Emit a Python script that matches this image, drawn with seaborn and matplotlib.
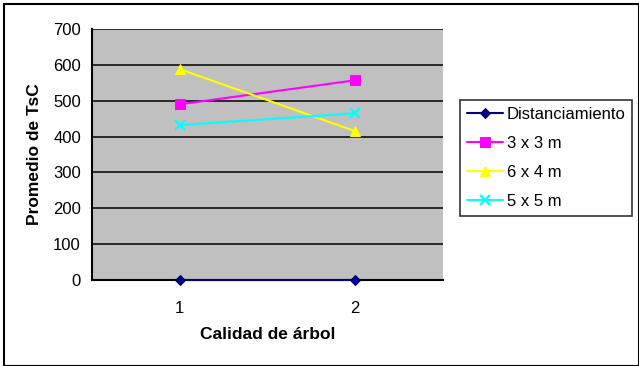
import matplotlib
matplotlib.use("Agg")
import matplotlib.pyplot as plt
import seaborn as sns
import pandas as pd
from matplotlib.patches import Rectangle

# Mean TsC by tree quality for each planting distance
calidad = [1, 2]
series = ["Distanciamiento", "3 x 3 m", "6 x 4 m", "5 x 5 m"]
distanciamiento = [0, 0]
d_3x3 = [490, 557]
d_6x4 = [588, 415]
d_5x5 = [432, 465]
y_ticks = [0, 100, 200, 300, 400, 500, 600, 700]

colors = ["#000080", "#FF00FF", "#FFFF00", "#00FFFF"]
markers = ["D", "s", "^", "x"]

rows = []
for name, vals in zip(series, [distanciamiento, d_3x3, d_6x4, d_5x5]):
    for c, v in zip(calidad, vals):
        rows.append({"Calidad": c, "TsC": v, "Serie": name})
df = pd.DataFrame(rows)

sns.set_theme(style="white")
plt.rcParams["font.family"] = ["Liberation Sans", "DejaVu Sans"]

fig = plt.figure(figsize=(6.39, 3.66), dpi=100)
ax = fig.add_axes([92 / 639, 1 - 280 / 366, 351 / 639, 251 / 366])
ax.set_facecolor("#C0C0C0")

for name, col, mk in zip(series, colors, markers):
    sub = df[df["Serie"] == name]
    if mk == "x":
        kw = dict(marker="x", markersize=7, markeredgewidth=1.6, markeredgecolor=col)
    elif mk == "D":
        kw = dict(marker="D", markersize=5, markeredgecolor=col, markerfacecolor=col)
    else:
        kw = dict(marker=mk, markersize=6.5, markeredgecolor=col, markerfacecolor=col)
    sns.lineplot(data=sub, x="Calidad", y="TsC", color=col, linewidth=1.5,
                 label=name, ax=ax, clip_on=False, zorder=5, **kw)

ax.set_xlim(0.5, 2.5)
ax.set_ylim(0, 700)
ax.set_yticks(y_ticks)
ax.set_xticks([0.5, 1.5, 2.5])
ax.set_xticklabels([])
ax.set_xticks(calidad, minor=True)
ax.set_xticklabels([str(c) for c in calidad], minor=True)
ax.tick_params(axis="x", which="minor", length=0, pad=15, labelsize=12, colors="black")
ax.tick_params(axis="x", which="major", length=4, width=1.2, direction="out", colors="black")
ax.tick_params(axis="y", which="major", length=5, width=1.2, direction="out",
               labelsize=12, colors="black", pad=3)
ax.yaxis.grid(True, color="black", linewidth=1.1)
ax.set_axisbelow(True)

for side in ["top", "right"]:
    ax.spines[side].set_visible(False)
ax.spines["left"].set_color("black")
ax.spines["left"].set_linewidth(1.5)
ax.spines["bottom"].set_color("black")
ax.spines["bottom"].set_linewidth(1.5)

ax.set_xlabel("Calidad de árbol", fontsize=12.5, fontweight="bold", labelpad=8, color="black")
ax.set_ylabel("Promedio de TsC", fontsize=12.5, fontweight="bold", labelpad=8, color="black")

leg = ax.legend(loc="upper left", bbox_to_anchor=(460 / 639, 1 - 100 / 366),
                bbox_transform=fig.transFigure, frameon=True, fancybox=False,
                fontsize=12, handlelength=2.2, borderpad=0.4, labelspacing=0.85,
                handletextpad=0.2, borderaxespad=0)
leg.get_frame().set_edgecolor("black")
leg.get_frame().set_linewidth(1.2)
for t in leg.get_texts():
    t.set_color("black")

# outer chart border
fig.patches.append(Rectangle((4 / 639, 0), 1 - 4 / 639, 1 - 4 / 366, transform=fig.transFigure,
                             fill=False, edgecolor="black", linewidth=1.5))

fig.savefig("out.png", dpi=100)
